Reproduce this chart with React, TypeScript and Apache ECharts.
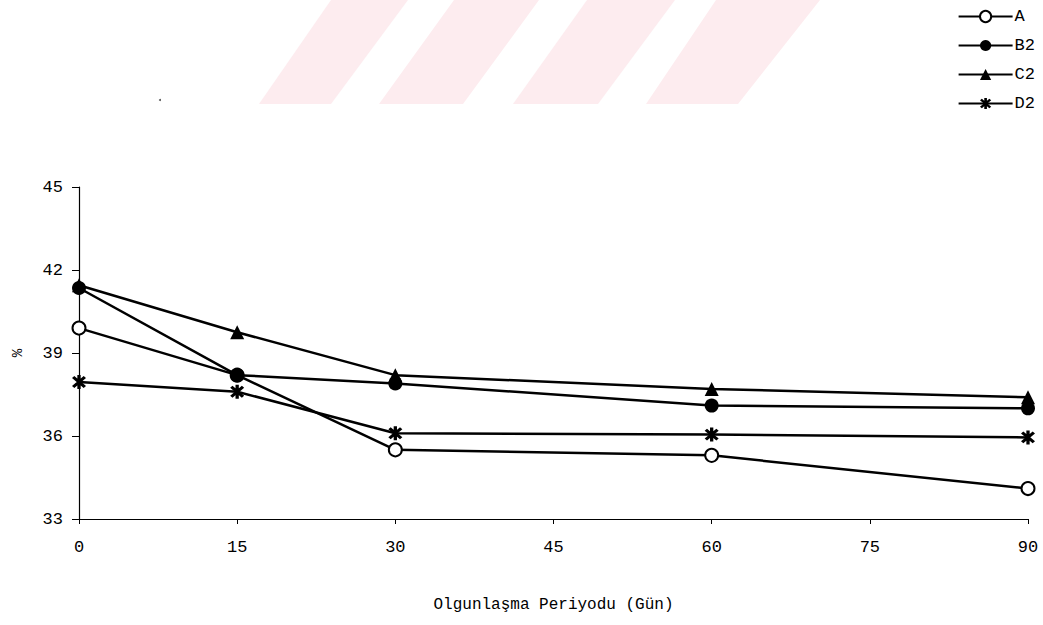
import React, { useEffect, useRef } from "react";
import * as echarts from "echarts";

const days = [0, 15, 30, 60, 90];
const seriesA = [39.9, 38.2, 35.5, 35.3, 34.1];
const seriesB2 = [41.35, 38.2, 37.9, 37.1, 37.0];
const seriesC2 = [41.45, 39.75, 38.2, 37.7, 37.4];
const seriesD2 = [37.95, 37.6, 36.1, 36.05, 35.95];
const seriesNames = ["A", "B2", "C2", "D2"];
const xTitle = "Olgunlaşma Periyodu (Gün)";
const yTitle = "%";

const STAR =
  "path://M4.53,6.79L6.79,4.53L-4.53,-6.79L-6.79,-4.53Z" +
  "M6.79,-4.53L4.53,-6.79L-6.79,4.53L-4.53,6.79Z" +
  "M-1.6,8L1.6,8L1.6,-8L-1.6,-8Z";

const FONT = "'Liberation Mono', 'DejaVu Sans Mono', monospace";

export default function App() {
  const ref = useRef<HTMLDivElement>(null);
  useEffect(() => {
    if (!ref.current) return;
    const chart = echarts.init(ref.current, undefined, { renderer: "svg" });
    const mk = (name: string, vals: number[], symbol: string, size: number) => ({
      name,
      type: "line",
      data: days.map((d, i) => [d, vals[i]]),
      symbol,
      symbolSize: size,
      showAllSymbol: true,
      lineStyle: { color: "#000", width: 2.5 },
      itemStyle: { color: "#000", borderColor: "#000", borderWidth: symbol === "emptyCircle" ? 2.2 : 0 },
      emphasis: { disabled: true },
    });
    const stripes = [
      [[331, 0], [408, 0], [331, 104], [259, 104]],
      [[454, 0], [539, 0], [463, 104], [379, 104]],
      [[587, 0], [675, 0], [598, 104], [513, 104]],
      [[716, 0], [820, 0], [738, 104], [646, 104]],
    ];
    chart.setOption({
      animation: false,
      backgroundColor: "#fff",
      textStyle: { fontFamily: FONT },
      graphic: [
        ...stripes.map((pts) => ({
          type: "polygon",
          shape: { points: pts },
          style: { fill: "#fdecef" },
          z: -10,
          silent: true,
        })),
        { type: "circle", shape: { cx: 160, cy: 100, r: 1 }, style: { fill: "#555" }, silent: true },
      ],
      legend: {
        orient: "vertical",
        right: 3,
        top: 3,
        itemWidth: 54,
        itemHeight: 14,
        itemGap: 12,
        data: seriesNames,
        textStyle: { fontFamily: FONT, fontSize: 17, color: "#000", padding: [0, 0, 0, -3] },
        selectedMode: false,
      },
      grid: { left: 79, right: 15, top: 187, bottom: 106 },
      xAxis: {
        type: "value",
        min: 0,
        max: 90,
        interval: 15,
        name: xTitle,
        nameLocation: "middle",
        nameGap: 78,
        nameTextStyle: { fontFamily: FONT, fontSize: 16, color: "#000" },
        axisLine: { lineStyle: { color: "#000", width: 1.2 } },
        axisTick: { show: true, length: 5, lineStyle: { color: "#000" } },
        axisLabel: { fontFamily: FONT, fontSize: 17, color: "#000", margin: 20 },
        splitLine: { show: false },
      },
      yAxis: {
        type: "value",
        min: 33,
        max: 45,
        interval: 3,
        name: yTitle,
        nameLocation: "middle",
        nameRotate: 90,
        nameGap: 54,
        nameTextStyle: { fontFamily: FONT, fontSize: 14, color: "#000" },
        axisLine: { show: true, lineStyle: { color: "#000", width: 1.2 } },
        axisTick: { show: true, length: 7, lineStyle: { color: "#000" } },
        axisLabel: { fontFamily: FONT, fontSize: 17, color: "#000", margin: 16 },
        splitLine: { show: false },
      },
      series: [
        mk("A", seriesA, "emptyCircle", 13),
        mk("B2", seriesB2, "circle", 14),
        mk("C2", seriesC2, "triangle", 14),
        mk("D2", seriesD2, STAR, 14),
      ],
    });
    return () => chart.dispose();
  }, []);
  return <div ref={ref} style={{ width: 1043, height: 625, position: "absolute", left: 0, top: 0 }} />;
}
